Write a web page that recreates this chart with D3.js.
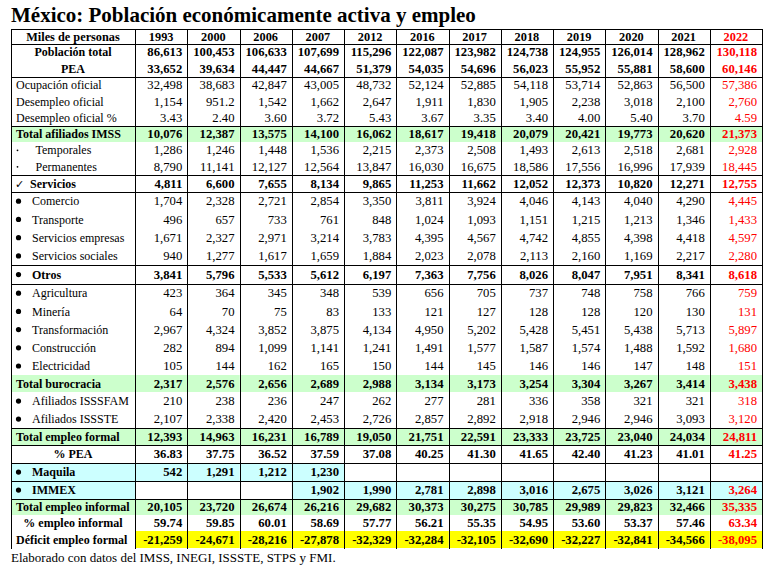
<!DOCTYPE html>
<html><head><meta charset="utf-8">
<script src="https://cdn.jsdelivr.net/npm/d3@7"></script>
<style>
html,body{margin:0;padding:0;background:#fff;}
svg{display:block;font-family:"Liberation Serif","Times New Roman",serif;}
</style></head>
<body>
<svg id="chart" width="770" height="572"></svg>
<script>
// ---------- DATA ----------
const title = "México: Población económicamente activa y empleo";
const footnote = "Elaborado con datos del IMSS, INEGI, ISSSTE, STPS y FMI.";
const headerLabel = "Miles de personas";
const years = ["1993","2000","2006","2007","2012","2016","2017","2018","2019","2020","2021","2022"];

const poblacionTotal = [86613,100453,106633,107699,115296,122087,123982,124738,124955,126014,128962,130118];
const pea = [33652,39634,44447,44667,51379,54035,54696,56023,55952,55881,58600,60146];
const ocupacionOficial = [32498,38683,42847,43005,48732,52124,52885,54118,53714,52863,56500,57386];
const desempleoOficial = [1154,951.2,1542,1662,2647,1911,1830,1905,2238,3018,2100,2760];
const desempleoPct = [3.43,2.40,3.60,3.72,5.43,3.67,3.35,3.40,4.00,5.40,3.70,4.59];
const totalIMSS = [10076,12387,13575,14100,16062,18617,19418,20079,20421,19773,20620,21373];
const temporales = [1286,1246,1448,1536,2215,2373,2508,1493,2613,2518,2681,2928];
const permanentes = [8790,11141,12127,12564,13847,16030,16675,18586,17556,16996,17939,18445];
const servicios = [4811,6600,7655,8134,9865,11253,11662,12052,12373,10820,12271,12755];
const comercio = [1704,2328,2721,2854,3350,3811,3924,4046,4143,4040,4290,4445];
const transporte = [496,657,733,761,848,1024,1093,1151,1215,1213,1346,1433];
const serviciosEmpresas = [1671,2327,2971,3214,3783,4395,4567,4742,4855,4398,4418,4597];
const serviciosSociales = [940,1277,1617,1659,1884,2023,2078,2113,2160,1169,2217,2280];
const otros = [3841,5796,5533,5612,6197,7363,7756,8026,8047,7951,8341,8618];
const agricultura = [423,364,345,348,539,656,705,737,748,758,766,759];
const mineria = [64,70,75,83,133,121,127,128,128,120,130,131];
const transformacion = [2967,4324,3852,3875,4134,4950,5202,5428,5451,5438,5713,5897];
const construccion = [282,894,1099,1141,1241,1491,1577,1587,1574,1488,1592,1680];
const electricidad = [105,144,162,165,150,144,145,146,146,147,148,151];
const totalBurocracia = [2317,2576,2656,2689,2988,3134,3173,3254,3304,3267,3414,3438];
const issfam = [210,238,236,247,262,277,281,336,358,321,321,318];
const issste = [2107,2338,2420,2453,2726,2857,2892,2918,2946,2946,3093,3120];
const totalFormal = [12393,14963,16231,16789,19050,21751,22591,23333,23725,23040,24034,24811];
const pctPEA = [36.83,37.75,36.52,37.59,37.08,40.25,41.30,41.65,42.40,41.23,41.01,41.25];
const maquila = [542,1291,1212,1230,null,null,null,null,null,null,null,null];
const immex = [null,null,null,1902,1990,2781,2898,3016,2675,3026,3121,3264];
const totalInformal = [20105,23720,26674,26216,29682,30373,30275,30785,29989,29823,32466,35335];
const pctInformal = [59.74,59.85,60.01,58.69,57.77,56.21,55.35,54.95,53.60,53.37,57.46,63.34];
const deficit = [-21259,-24671,-28216,-27878,-32329,-32284,-32105,-32690,-32227,-32841,-34566,-38095];

const rowLabels = ["Población total","PEA","Ocupación oficial","Desempleo oficial","Desempleo oficial %",
  "Total afiliados IMSS","Temporales","Permanentes","Servicios","Comercio","Transporte","Servicios empresas",
  "Servicios sociales","Otros","Agricultura","Minería","Transformación","Construcción","Electricidad",
  "Total burocracia","Afiliados ISSSFAM","Afiliados ISSSTE","Total empleo formal","% PEA","Maquila","IMMEX",
  "Total empleo informal","% empleo informal","Déficit empleo formal"];
const rowValues = [poblacionTotal,pea,ocupacionOficial,desempleoOficial,desempleoPct,totalIMSS,temporales,
  permanentes,servicios,comercio,transporte,serviciosEmpresas,serviciosSociales,otros,agricultura,mineria,
  transformacion,construccion,electricidad,totalBurocracia,issfam,issste,totalFormal,pctPEA,maquila,immex,
  totalInformal,pctInformal,deficit];

// ---------- STYLE / LAYOUT ----------
const S = [
 {h:16,b:1,a:"c"},{h:17,b:1,a:"c",line:1},
 {h:16.3},{h:16.3},{h:16.4,pct:1,line:1},
 {h:16,b:1,bg:"g"},{h:16,m:"dot"},{h:17,m:"dot",line:1},
 {h:17,b:1,m:"check",line:1},
 {h:18.2,m:"bul"},{h:18.2,m:"bul"},{h:18.3,m:"bul"},{h:18.3,m:"bul",line:1},
 {h:19,b:1,m:"bul",line:1},
 {h:18.2,m:"bul"},{h:18.2,m:"bul"},{h:18.2,m:"bul"},{h:18.2,m:"bul"},{h:18.2,m:"bul"},
 {h:17,b:1,bg:"g"},{h:18,m:"bul"},{h:18,m:"bul",line:1},
 {h:17,b:1,bg:"g",line:1},{h:18,b:1,a:"c",pct:1,line:1},
 {h:18,b:1,m:"bul",bg:"c",line:1},{h:18,b:1,m:"bul",bg:"c",line:1},
 {h:16,b:1,bg:"g"},{h:16,b:1,a:"c",pct:1},{h:17,b:1,bg:"y",bgValuesOnly:1}
];
const bgColors = {g:"#ccffcc", c:"#ccffff", y:"#ffff00"};
const red = "#ff0000";
const fs = 12.7;     // value font size
const lfs = 12.0;    // label font size

const xL = 11, labelRight = 135, xR = 762, yT = 29, headerH = 15;

const svg = d3.select("#chart");
const x = d3.scaleBand().domain(years).range([labelRight, xR]);
const lastYear = years[years.length - 1];

const rows = rowLabels.map((label, i) => ({label, values: rowValues[i], ...S[i]}));
const heights = rows.map(r => r.h);
const tops = [yT + headerH, ...Array.from(d3.cumsum(heights)).map(v => yT + headerH + v)];
rows.forEach((r, i) => { r.y0 = tops[i]; r.y1 = tops[i + 1]; });
const yB = tops[tops.length - 1];

const loc = d3.formatLocale({decimal: ".", thousands: ",", grouping: [3], currency: ["$", ""], minus: "-"});
const fmtNum = loc.format(",");
const fmtPct = loc.format(".2f");

// Title
svg.append("text").attr("x", xL).attr("y", 22)
  .attr("font-size", 21).attr("font-weight", "bold").attr("fill", "#000").text(title);

// backgrounds
const bgG = svg.append("g");
rows.forEach(r => {
  if (!r.bg) return;
  const col = bgColors[r.bg];
  if (!r.bgValuesOnly) {
    bgG.append("rect").attr("x", xL).attr("y", r.y0).attr("width", labelRight - xL)
      .attr("height", r.y1 - r.y0).attr("fill", col);
  }
  years.forEach((yr, j) => {
    if (r.values[j] === null) return;
    bgG.append("rect").attr("x", x(yr)).attr("y", r.y0).attr("width", x.bandwidth())
      .attr("height", r.y1 - r.y0).attr("fill", col);
  });
});

// header
const hy = yT + headerH / 2 + 4.3;
svg.append("text").attr("x", (xL + labelRight) / 2).attr("y", hy).attr("text-anchor", "middle")
  .attr("font-size", 12.3).attr("font-weight", "bold").text(headerLabel);
svg.selectAll("text.yr").data(years).join("text").attr("class", "yr")
  .attr("x", d => x(d) + x.bandwidth() / 2).attr("y", hy).attr("text-anchor", "middle")
  .attr("font-size", 12.3).attr("font-weight", "bold")
  .attr("fill", d => d === lastYear ? red : "#000").text(d => d);

// labels
const lab = svg.append("g");
rows.forEach(r => {
  const cy = (r.y0 + r.y1) / 2 + 4.3;
  const w = r.b ? "bold" : "normal";
  if (r.a === "c") {
    lab.append("text").attr("x", (xL + labelRight) / 2).attr("y", cy).attr("text-anchor", "middle")
      .attr("font-size", lfs).attr("font-weight", w).text(r.label);
    return;
  }
  let tx = 16;
  if (r.m === "bul") {
    lab.append("circle").attr("cx", 18.5).attr("cy", cy - 4.2).attr("r", 2.6).attr("fill", "#000");
    tx = 32;
  } else if (r.m === "dot") {
    lab.append("circle").attr("cx", 17.5).attr("cy", cy - 4).attr("r", 0.9).attr("fill", "#000");
    tx = 35.5;
  } else if (r.m === "check") {
    lab.append("text").attr("x", 15).attr("y", cy).attr("font-size", 11)
      .attr("font-family", "DejaVu Sans").text("✓");
    tx = 30;
  }
  lab.append("text").attr("x", tx).attr("y", cy).attr("font-size", lfs).attr("font-weight", w).text(r.label);
});

// values
const vals = svg.append("g");
rows.forEach(r => {
  const cy = (r.y0 + r.y1) / 2 + 4.3;
  years.forEach((yr, j) => {
    const v = r.values[j];
    if (v === null) return;
    vals.append("text").attr("x", x(yr) + x.bandwidth() - 5).attr("y", cy)
      .attr("text-anchor", "end").attr("font-size", fs).attr("font-weight", r.b ? "bold" : "normal")
      .attr("fill", yr === lastYear ? red : "#000")
      .text(r.pct ? fmtPct(v) : fmtNum(v));
  });
});

// grid lines
const gl = svg.append("g").attr("stroke", "#000").attr("stroke-width", 1).attr("shape-rendering", "crispEdges");
const hLines = [yT, yT + headerH, ...rows.filter(r => r.line).map(r => r.y1)];
hLines.forEach(yv => gl.append("line").attr("x1", xL).attr("x2", xR + 1).attr("y1", Math.round(yv) + 0.5).attr("y2", Math.round(yv) + 0.5));
const vLines = [xL, labelRight, ...years.map(yr => x(yr) + x.bandwidth())];
vLines.forEach(xv => gl.append("line").attr("x1", Math.round(xv) + 0.5).attr("x2", Math.round(xv) + 0.5).attr("y1", yT).attr("y2", Math.round(yB) + 0.5));

// footnote
svg.append("text").attr("x", xL).attr("y", 562).attr("font-size", 13).text(footnote);
</script>
</body></html>
